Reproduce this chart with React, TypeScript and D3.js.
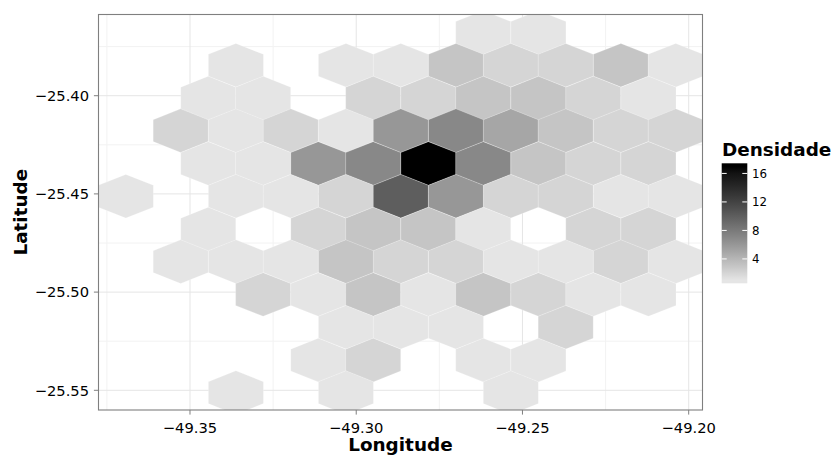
import React from "react";
import * as d3 from "d3";

// Hexbin cells: centre longitude, centre latitude, count
const hexLon = [
  -49.2618, -49.2452,
  -49.3362, -49.3031, -49.2866, -49.27, -49.2535, -49.237, -49.2204, -49.2039,
  -49.3445, -49.328, -49.2949, -49.2783, -49.2618, -49.2452, -49.2287, -49.2121,
  -49.3528, -49.3362, -49.3197, -49.3031, -49.2866, -49.27, -49.2535, -49.237, -49.2204, -49.2039,
  -49.3445, -49.328, -49.3114, -49.2949, -49.2783, -49.2618, -49.2452, -49.2287, -49.2121,
  -49.3693, -49.3362, -49.3197, -49.3031, -49.2866, -49.27, -49.2535, -49.237, -49.2204, -49.2039,
  -49.3445, -49.3114, -49.2949, -49.2783, -49.2618, -49.2287, -49.2121,
  -49.3528, -49.3362, -49.3197, -49.3031, -49.2866, -49.27, -49.2535, -49.237, -49.2204, -49.2039,
  -49.328, -49.3114, -49.2949, -49.2783, -49.2618, -49.2452, -49.2287, -49.2121,
  -49.3031, -49.2866, -49.27, -49.237,
  -49.3114, -49.2949, -49.2618, -49.2452,
  -49.3362, -49.3031, -49.2535,
];
const hexLat = [
  -25.3678, -25.3678,
  -25.3845, -25.3845, -25.3845, -25.3845, -25.3845, -25.3845, -25.3845, -25.3845,
  -25.4012, -25.4012, -25.4012, -25.4012, -25.4012, -25.4012, -25.4012, -25.4012,
  -25.4178, -25.4178, -25.4178, -25.4178, -25.4178, -25.4178, -25.4178, -25.4178, -25.4178, -25.4178,
  -25.4345, -25.4345, -25.4345, -25.4345, -25.4345, -25.4345, -25.4345, -25.4345, -25.4345,
  -25.4512, -25.4512, -25.4512, -25.4512, -25.4512, -25.4512, -25.4512, -25.4512, -25.4512, -25.4512,
  -25.4679, -25.4679, -25.4679, -25.4679, -25.4679, -25.4679, -25.4679,
  -25.4845, -25.4845, -25.4845, -25.4845, -25.4845, -25.4845, -25.4845, -25.4845, -25.4845, -25.4845,
  -25.5012, -25.5012, -25.5012, -25.5012, -25.5012, -25.5012, -25.5012, -25.5012,
  -25.5179, -25.5179, -25.5179, -25.5179,
  -25.5346, -25.5346, -25.5346, -25.5346,
  -25.5512, -25.5512, -25.5512,
];
const hexCount = [
  1, 1,
  1, 1, 1, 3, 2, 2, 3, 1,
  1, 1, 2, 2, 3, 3, 2, 1,
  2, 1, 2, 1, 6, 7, 5, 3, 2, 2,
  1, 1, 6, 7, 17, 7, 3, 2, 2,
  1, 1, 1, 2, 10, 6, 2, 2, 1, 1,
  1, 2, 3, 3, 1, 2, 2,
  1, 1, 1, 3, 2, 2, 1, 1, 2, 1,
  2, 1, 3, 1, 3, 2, 1, 1,
  1, 1, 1, 2,
  1, 2, 1, 1,
  1, 1, 1,
];

const xTicks = [-49.35, -49.3, -49.25, -49.2];
const yTicks = [-25.55, -25.5, -25.45, -25.4];
const xMinor = [-49.375, -49.325, -49.275, -49.225];
const yMinor = [-25.525, -25.475, -25.425, -25.375];
const legendBreaks = [4, 8, 12, 16];
const countLimits = [1, 17];

const xTitle = "Longitude";
const yTitle = "Latitude";
const legendTitle = "Densidade";

// hex geometry (bin half-width in lon, vertical radius in lat)
const hexHalfW = 0.008271;
const hexR = 0.011117;

const FONT = "'DejaVu Sans', sans-serif";

const W = 838;
const H = 459;
const P = { left: 98.5, right: 702.5, top: 14.5, bottom: 410 };

export default function App() {
  const x = d3.scaleLinear().domain([-49.37758, -49.19591]).range([98.3, 702.3]);
  const y = d3.scaleLinear().domain([-25.56003, -25.35855]).range([410, 14.3]);
  const color = d3
    .scaleLinear<string>()
    .domain(countLimits)
    .range(["#e5e5e5", "#000000"])
    .interpolate(d3.interpolateLab);

  const fmt = (v: number) => d3.format(".2f")(v).replace("-", "\u2212");

  const hexPath = (cx: number, cy: number) => {
    const pts: [number, number][] = [
      [cx, cy + hexR],
      [cx + hexHalfW, cy + hexR / 2],
      [cx + hexHalfW, cy - hexR / 2],
      [cx, cy - hexR],
      [cx - hexHalfW, cy - hexR / 2],
      [cx - hexHalfW, cy + hexR / 2],
    ];
    return "M" + pts.map(([a, b]) => `${x(a)},${y(b)}`).join("L") + "Z";
  };

  // legend colourbar
  const nbin = 20;
  const half = (countLimits[1] - countLimits[0]) / (nbin - 1) / 2;
  const barLo = countLimits[0] - half;
  const barHi = countLimits[1] + half;
  const barTop = 163.3;
  const barBottom = 283.3;
  const barX = 721.7;
  const barW = 25.6;
  const ly = d3.scaleLinear().domain([barLo, barHi]).range([barBottom, barTop]);
  const stops = d3.range(countLimits[0], countLimits[1] + 0.001, 1);

  return (
    <svg
      width={W}
      height={H}
      style={{ position: "absolute", left: 0, top: 0, background: "#fff" }}
      fontFamily={FONT}
    >
      <defs>
        <clipPath id="panel">
          <rect x={P.left} y={P.top} width={P.right - P.left} height={P.bottom - P.top} />
        </clipPath>
        <linearGradient id="bar" x1="0" y1="1" x2="0" y2="0">
          {stops.map((v) => (
            <stop
              key={v}
              offset={(v - barLo) / (barHi - barLo)}
              stopColor={color(v)}
            />
          ))}
        </linearGradient>
      </defs>
      <rect x={0} y={0} width={W} height={H} fill="#fff" />
      {/* grid */}
      <g clipPath="url(#panel)">
        {xMinor.map((v) => (
          <line key={"xm" + v} x1={x(v)} x2={x(v)} y1={P.top} y2={P.bottom} stroke="#f2f2f2" strokeWidth={1} />
        ))}
        {yMinor.map((v) => (
          <line key={"ym" + v} y1={y(v)} y2={y(v)} x1={P.left} x2={P.right} stroke="#f2f2f2" strokeWidth={1} />
        ))}
        {xTicks.map((v) => (
          <line key={"xM" + v} x1={x(v)} x2={x(v)} y1={P.top} y2={P.bottom} stroke="#e5e5e5" strokeWidth={1} />
        ))}
        {yTicks.map((v) => (
          <line key={"yM" + v} y1={y(v)} y2={y(v)} x1={P.left} x2={P.right} stroke="#e5e5e5" strokeWidth={1} />
        ))}
        {hexCount.map((c, i) => (
          <path
            key={i}
            d={hexPath(hexLon[i], hexLat[i])}
            fill={color(c)}
            stroke="#ffffff"
            strokeOpacity={0.35}
            strokeWidth={0.6}
          />
        ))}
      </g>
      <rect
        x={P.left}
        y={P.top}
        width={P.right - P.left}
        height={P.bottom - P.top}
        fill="none"
        stroke="#7f7f7f"
        strokeWidth={1.1}
      />
      {/* x axis */}
      {xTicks.map((v) => (
        <g key={"xt" + v}>
          <line x1={x(v)} x2={x(v)} y1={P.bottom} y2={P.bottom + 4.6} stroke="#7f7f7f" strokeWidth={1} />
          <text x={x(v)} y={433.3} textAnchor="middle" fontSize={14.7} fill="#000">
            {fmt(v)}
          </text>
        </g>
      ))}
      {/* y axis */}
      {yTicks.map((v) => (
        <g key={"yt" + v}>
          <line x1={P.left - 4.6} x2={P.left} y1={y(v)} y2={y(v)} stroke="#7f7f7f" strokeWidth={1} />
          <text x={89} y={y(v) + 5.3} textAnchor="end" fontSize={14.7} fill="#000">
            {fmt(v)}
          </text>
        </g>
      ))}
      <text x={400.4} y={451} textAnchor="middle" fontSize={18.4} fontWeight="bold" fill="#000">
        {xTitle}
      </text>
      <text
        transform={`translate(26.7,212.2) rotate(-90)`}
        textAnchor="middle"
        fontSize={18.4}
        fontWeight="bold"
        fill="#000"
      >
        {yTitle}
      </text>
      {/* legend */}
      <text x={722} y={155.8} fontSize={18.4} fontWeight="bold" fill="#000">
        {legendTitle}
      </text>
      <rect x={barX} y={barTop} width={barW} height={barBottom - barTop} fill="url(#bar)" />
      {legendBreaks.map((b) => (
        <g key={"lb" + b}>
          <line x1={barX} x2={barX + 5} y1={ly(b)} y2={ly(b)} stroke="#fff" strokeWidth={1} />
          <line x1={barX + barW - 5} x2={barX + barW} y1={ly(b)} y2={ly(b)} stroke="#fff" strokeWidth={1} />
          <text x={752} y={ly(b) + 4.3} fontSize={11.8} fill="#000">
            {b}
          </text>
        </g>
      ))}
    </svg>
  );
}
